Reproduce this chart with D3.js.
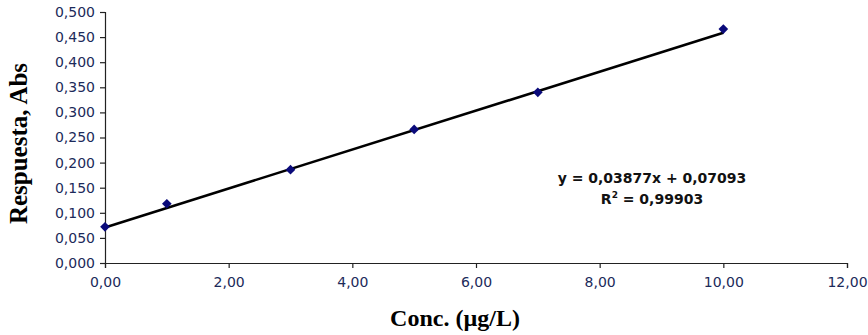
<!DOCTYPE html>
<html>
<head>
<meta charset="utf-8">
<script src="https://cdn.jsdelivr.net/npm/d3@7"></script>
<style>
  body { margin: 0; background: #fff; }
  .tick text { font-family: "DejaVu Sans", Verdana, sans-serif; font-size: 14px; fill: #1c2a5a; }
</style>
</head>
<body>
<svg id="chart" width="868" height="335"></svg>
<script>
// data
const conc = [0, 1, 3, 5, 7, 10];
const abs = [0.072, 0.118, 0.186, 0.266, 0.340, 0.466];
const slope = 0.03877;
const intercept = 0.07093;
const r2 = "0,99903";
const yTicks = d3.range(0, 0.5001, 0.05);
const xTicks = d3.range(0, 12.001, 2);

const width = 868, height = 335;
const margin = { top: 12, right: 21, bottom: 72, left: 105 };

const svg = d3.select("#chart");
const x = d3.scaleLinear().domain([0, 12]).range([margin.left, width - margin.right]);
const y = d3.scaleLinear().domain([0, 0.5]).range([height - margin.bottom, margin.top]);

const fmt = (n, d) => n.toFixed(d).replace(".", ",");

// y axis
const yAxis = svg.append("g")
  .attr("transform", `translate(${margin.left},0)`)
  .call(d3.axisLeft(y).tickValues(yTicks).tickSize(5).tickPadding(5).tickFormat(d => fmt(d, 3)));

// x axis
const xAxis = svg.append("g")
  .attr("transform", `translate(0,${height - margin.bottom})`)
  .call(d3.axisBottom(x).tickValues(xTicks).tickSize(5).tickPadding(9).tickFormat(d => fmt(d, 2)));

[yAxis, xAxis].forEach(a => {
  a.select(".domain").attr("stroke", "#222").attr("stroke-width", 1.2);
  a.selectAll(".tick line").attr("stroke", "#222").attr("stroke-width", 1.2);
});

// trend line from the fitted equation
svg.append("line")
  .attr("x1", x(0)).attr("y1", y(intercept))
  .attr("x2", x(10)).attr("y2", y(intercept + slope * 10))
  .attr("stroke", "#000")
  .attr("stroke-width", 2.6);

// markers
svg.append("g")
  .selectAll("path")
  .data(conc)
  .enter()
  .append("path")
  .attr("d", d3.symbol(d3.symbolDiamond2, 60))
  .attr("transform", (d, i) => `translate(${x(d)},${y(abs[i])})`)
  .attr("fill", "#0a0a7a");

// equation
const eq = svg.append("text")
  .attr("text-anchor", "middle")
  .style("font-family", "'DejaVu Sans', Verdana, sans-serif")
  .style("font-weight", "bold")
  .style("font-size", "14px")
  .attr("fill", "#111");
eq.append("tspan").attr("x", 652).attr("y", 183)
  .text(`y = ${fmt(slope, 5)}x + ${fmt(intercept, 5)}`);
const l2 = eq.append("tspan").attr("x", 652).attr("y", 204);
l2.append("tspan").text("R");
l2.append("tspan").attr("dy", -6).style("font-size", "9px").text("2");
l2.append("tspan").attr("dy", 6).text(` = ${r2}`);

// axis titles
svg.append("text")
  .attr("x", 455).attr("y", 326)
  .attr("text-anchor", "middle")
  .style("font-family", "'Liberation Serif', 'Times New Roman', serif")
  .style("font-weight", "bold")
  .style("font-size", "24px")
  .text("Conc. (µg/L)");

svg.append("text")
  .attr("transform", `translate(27,${(margin.top + height - margin.bottom) / 2 + 6}) rotate(-90)`)
  .attr("text-anchor", "middle")
  .style("font-family", "'Liberation Serif', 'Times New Roman', serif")
  .style("font-weight", "bold")
  .style("font-size", "25px")
  .text("Respuesta, Abs");
</script>
</body>
</html>
